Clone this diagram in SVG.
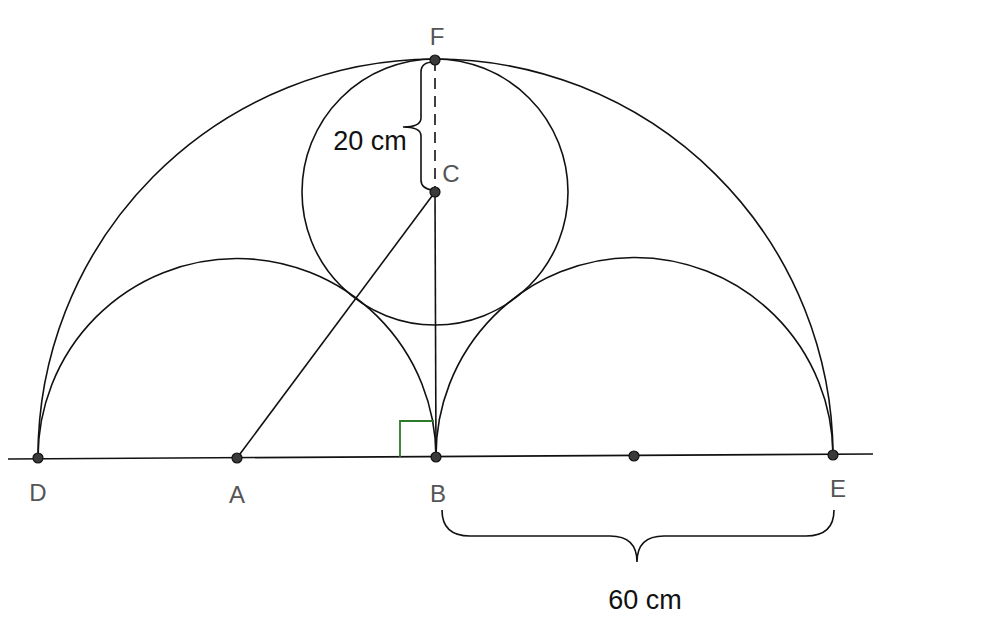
<svg xmlns="http://www.w3.org/2000/svg" width="981" height="636" viewBox="0 0 981 636">
<style>
.ln{fill:none;stroke:#111;stroke-width:1.6}
.pt{fill:#3a3a3a;stroke:#111;stroke-width:1.2}
.lbl{font-family:"Liberation Sans",Arial,sans-serif;font-size:24px;fill:#555}
.dim{font-family:"Liberation Sans",Arial,sans-serif;font-size:27px;fill:#111}
</style>
<rect width="981" height="636" fill="#fff"/>
<g id="connectors">
<line class="ln" x1="8" y1="459" x2="873" y2="454"/>
<path class="ln" d="M38,458 A397.5,397.5 0 0 1 833,455"/>
<path class="ln" d="M38,458 A199,199 0 0 1 436,457"/>
<path class="ln" d="M436,457 A198.5,198.5 0 0 1 833,455"/>
<circle class="ln" cx="435" cy="192" r="133"/>
<line class="ln" x1="237" y1="458" x2="435" y2="192"/>
<line class="ln" x1="435" y1="192" x2="436" y2="457"/>
<line class="ln" x1="435" y1="60" x2="435" y2="192" stroke-dasharray="11,7"/>
<path d="M400,457 V421 H434" fill="none" stroke="#2a7a2a" stroke-width="1.8"/>
<path class="ln" stroke-width="2" d="M434,62 Q421,62 421,72 V118 Q421,127 403,127 Q421,127 421,136 V180 Q421,189 433,190"/>
<path class="ln" stroke-width="2" d="M442,510 Q442,536 470,536 H610 Q637,536 637,562 Q637,536 664,536 H806 Q834,536 834,510"/>
</g>
<g id="D"><circle class="pt" cx="38" cy="458" r="5"/><text class="lbl" x="38" y="501" text-anchor="middle">D</text></g>
<g id="A"><circle class="pt" cx="237" cy="458" r="5"/><text class="lbl" x="237" y="503" text-anchor="middle">A</text></g>
<g id="B"><circle class="pt" cx="436" cy="457" r="5"/><text class="lbl" x="438" y="502" text-anchor="middle">B</text></g>
<g id="M"><circle class="pt" cx="634" cy="456" r="5"/></g>
<g id="E"><circle class="pt" cx="833" cy="455" r="5"/><text class="lbl" x="838" y="497" text-anchor="middle">E</text></g>
<g id="F"><circle class="pt" cx="435" cy="60" r="5"/><text class="lbl" x="437" y="45" text-anchor="middle">F</text></g>
<g id="C"><circle class="pt" cx="435" cy="192" r="5"/><text class="lbl" x="451" y="182" text-anchor="middle">C</text></g>
<g id="label20"><text class="dim" x="370" y="150" text-anchor="middle">20 cm</text></g>
<g id="label60"><text class="dim" x="645" y="609" text-anchor="middle">60 cm</text></g>
</svg>
